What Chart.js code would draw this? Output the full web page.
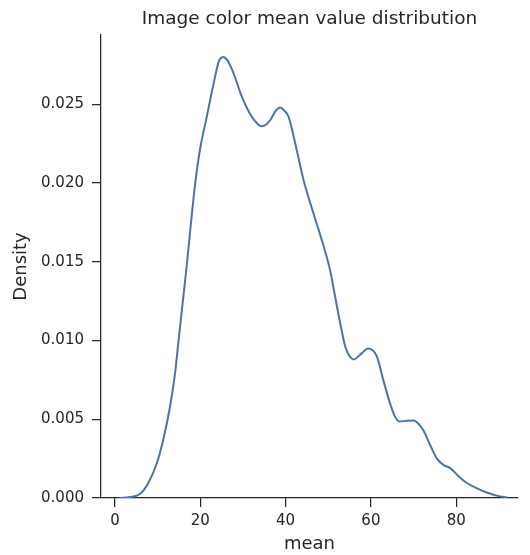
<!DOCTYPE html>
<html>
<head>
<meta charset="utf-8">
<script src="https://cdn.jsdelivr.net/npm/chart.js@4/dist/chart.umd.min.js"></script>
<style>
  html, body { margin: 0; padding: 0; background: #ffffff; }
  #wrap { width: 530px; height: 555px; }
</style>
</head>
<body>
<div id="wrap"><canvas id="c" width="530" height="555"></canvas></div>
<script>
// Data (KDE of image colour mean)
const meanValues = [1.0, 3.5, 5.9, 7.8, 9.8, 11.3, 12.9, 14.1, 14.85, 15.9, 16.9, 17.7, 18.8, 19.9, 21.5, 23.1, 24.5, 25.4, 26.3, 27.75, 29.7, 32.1, 34.4, 36.4, 37.7, 38.7, 39.7, 40.7, 42.6, 44.2, 46.5, 48.9, 50.4, 51.6, 52.8, 54.0, 55.0, 55.9, 57.9, 59.3, 60.3, 61.4, 62.9, 64.5, 65.6, 66.7, 68.4, 70.0, 71.2, 72.3, 74.0, 75.5, 77.0, 78.6, 80.5, 82.5, 85.0, 87.2, 90.0, 92.0];
const densityValues = [0.0, 0.00006, 0.00027, 0.00095, 0.00222, 0.0037, 0.00581, 0.0080, 0.0099, 0.0125, 0.0150, 0.0172, 0.0200, 0.0221, 0.0242, 0.0263, 0.02785, 0.0280, 0.0278, 0.0270, 0.0255, 0.0242, 0.0236, 0.0240, 0.0246, 0.0248, 0.0246, 0.0242, 0.0221, 0.0202, 0.0181, 0.0160, 0.0145, 0.0128, 0.0111, 0.0096, 0.0090, 0.0088, 0.0092, 0.0095, 0.0094, 0.0090, 0.0075, 0.0060, 0.0052, 0.00486, 0.0049, 0.00492, 0.0047, 0.0043, 0.0033, 0.0025, 0.0021, 0.0019, 0.0014, 0.00095, 0.0006, 0.00035, 0.00012, 0.00004];
const xTicks = [0, 20, 40, 60, 80];
const yTicks = [0.000, 0.005, 0.010, 0.015, 0.020, 0.025];

const points = meanValues.map((x, i) => ({ x: x, y: densityValues[i] }));
const ink = '#262626';
const FONT = "'DejaVu Sans', sans-serif";

new Chart(document.getElementById('c'), {
  type: 'line',
  data: {
    datasets: [{
      data: points,
      borderColor: '#4c72b0',
      borderWidth: 2,
      pointRadius: 0,
      fill: false,
      cubicInterpolationMode: 'monotone'
    }]
  },
  options: {
    responsive: false,
    animation: false,
    devicePixelRatio: 1,
    layout: { padding: { left: 0, right: 12, top: 0, bottom: 0 } },
    plugins: {
      legend: { display: false },
      tooltip: { enabled: false },
      title: {
        display: true,
        text: 'Image color mean value distribution',
        color: ink,
        fullSize: false,
        font: { family: FONT, size: 18.5, weight: 'normal' },
        padding: { top: 8, bottom: 4.8 }
      }
    },
    scales: {
      x: {
        type: 'linear',
        min: -3.3,
        max: 94.5,
        afterBuildTicks: (s) => { s.ticks = xTicks.map(v => ({ value: v })); },
        afterFit: (s) => { s.height = 57; },
        border: { display: true, color: ink, width: 1.25 },
        grid: { drawOnChartArea: false, drawTicks: true, tickLength: 9, color: ink, lineWidth: 1.25 },
        ticks: { color: ink, font: { family: FONT, size: 15 }, padding: 5, maxRotation: 0 },
        title: { display: true, text: 'mean', color: ink, font: { family: FONT, size: 18 }, padding: { top: 0, bottom: 0 } }
      },
      y: {
        type: 'linear',
        min: 0,
        max: 0.0294,
        afterBuildTicks: (s) => { s.ticks = yTicks.map(v => ({ value: v })); },
        afterFit: (s) => { s.width = 101; },
        border: { display: true, color: ink, width: 1.25 },
        grid: { drawOnChartArea: false, drawTicks: true, tickLength: 9, color: ink, lineWidth: 1.25 },
        ticks: { color: ink, font: { family: FONT, size: 15 }, padding: 8, callback: (v) => Number(v).toFixed(3) },
        title: { display: true, text: 'Density', color: ink, font: { family: FONT, size: 18 }, padding: { top: 11, bottom: 0 } }
      }
    }
  }
});
</script>
</body>
</html>
